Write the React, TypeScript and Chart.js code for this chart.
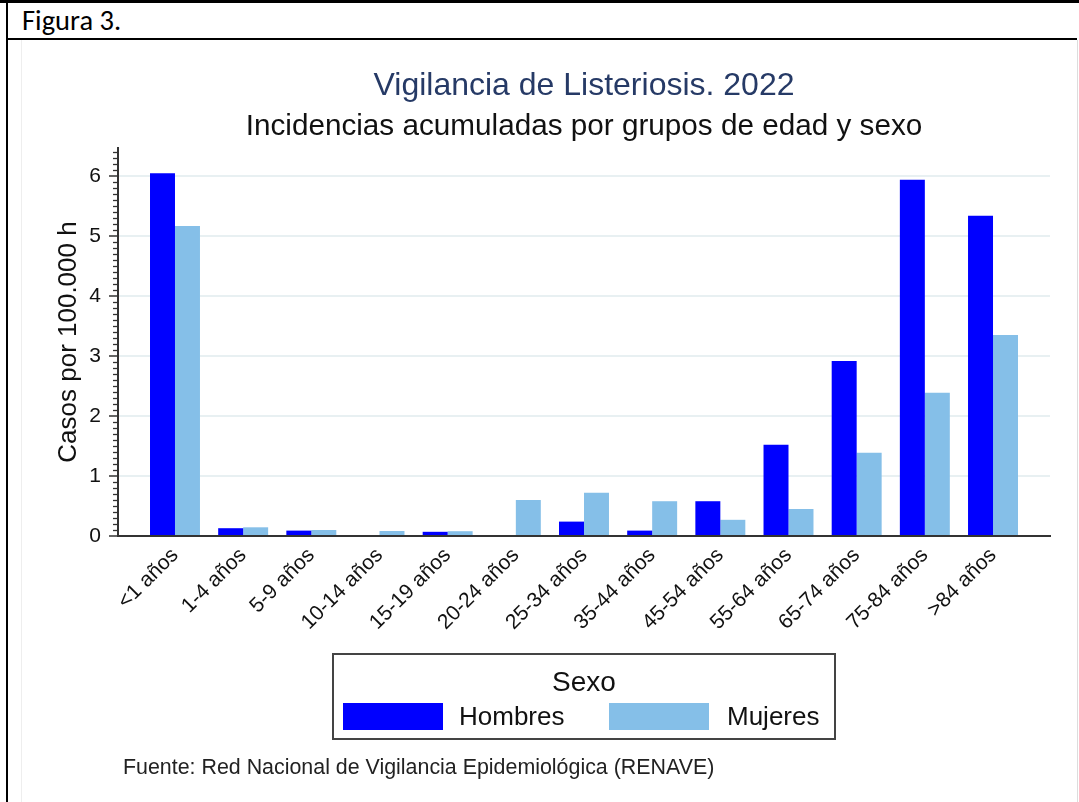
import React, { useEffect, useRef } from "react";
import { Chart, registerables } from "chart.js";

Chart.register(...registerables);

const categories = [
  "<1 años", "1-4 años", "5-9 años", "10-14 años", "15-19 años", "20-24 años",
  "25-34 años", "35-44 años", "45-54 años", "55-64 años", "65-74 años", "75-84 años", ">84 años",
];
const hombres = [6.05, 0.13, 0.09, 0, 0.07, 0, 0.24, 0.09, 0.58, 1.52, 2.92, 5.94, 5.34];
const mujeres = [5.17, 0.145, 0.1, 0.083, 0.08, 0.6, 0.72, 0.58, 0.27, 0.45, 1.39, 2.39, 3.35];
const yTickValues = [0, 1, 2, 3, 4, 5, 6];
const seriesNames = ["Hombres", "Mujeres"];
const seriesColors = ["#0000FF", "#85BFE8"];

const FONT = "'Liberation Sans', Arial, sans-serif";

const minorTicks = {
  id: "minorTicks",
  afterDraw(chart: any) {
    const y = chart.scales.y;
    const ctx = chart.ctx;
    ctx.save();
    ctx.strokeStyle = "#333";
    ctx.lineWidth = 1.3;
    const top = y.max;
    for (let k = 0; k / 10 <= top + 1e-9; k++) {
      if (k % 10 === 0) continue;
      const py = Math.round(y.getPixelForValue(k / 10)) + 0.5;
      ctx.beginPath();
      ctx.moveTo(y.right - 5, py);
      ctx.lineTo(y.right, py);
      ctx.stroke();
    }
    ctx.restore();
  },
};

function ChartCanvas() {
  const ref = useRef<HTMLCanvasElement | null>(null);
  useEffect(() => {
    if (!ref.current) return;
    const chart = new Chart(ref.current, {
      type: "bar",
      data: {
        datasets: [
          {
            label: seriesNames[0],
            data: hombres.map((v, i) => ({ x: i, y: v })),
            backgroundColor: seriesColors[0],
            borderWidth: 0,
          },
          {
            label: seriesNames[1],
            data: mujeres.map((v, i) => ({ x: i, y: v })),
            backgroundColor: seriesColors[1],
            borderWidth: 0,
          },
        ],
      },
      options: {
        responsive: false,
        animation: false,
        devicePixelRatio: 1,
        layout: { padding: { left: 0, right: 29, top: 0, bottom: 0 } },
        datasets: {
          bar: { categoryPercentage: 0.733, barPercentage: 1 },
        },
        plugins: {
          legend: { display: false },
          tooltip: { enabled: false },
          title: {
            display: true,
            fullSize: false,
            text: "Vigilancia de Listeriosis. 2022",
            color: "#263a66",
            font: { family: FONT, size: 32, weight: "normal" },
            padding: { top: 67, bottom: 0 },
          },
          subtitle: {
            display: true,
            fullSize: false,
            text: "Incidencias acumuladas por grupos de edad y sexo",
            color: "#111",
            font: { family: FONT, size: 29.7, weight: "normal" },
            padding: { top: 4, bottom: 3 },
          },
        },
        scales: {
          x: {
            type: "linear",
            min: -0.836,
            max: categories.length - 1 + 0.836,
            offset: false,
            grid: { display: false, drawTicks: false, offset: false },
            border: { display: true, color: "#333", width: 2 },
            afterBuildTicks: (scale: any) => {
              scale.ticks = categories.map((_, i) => ({ value: i }));
            },
            afterFit: (scale: any) => {
              scale.height = 266;
            },
            ticks: {
              autoSkip: false,
              maxRotation: 45,
              minRotation: 45,
              padding: 7,
              color: "#111",
              font: { family: FONT, size: 21 },
              callback: (v: any) => categories[Math.round(Number(v))] ?? "",
            },
          },
          y: {
            type: "linear",
            min: 0,
            max: 6.47,
            grid: {
              color: (c: any) => (c.tick && c.tick.value === 0 ? "rgba(0,0,0,0)" : "#E8F0F2"),
              lineWidth: 2,
              tickColor: "#333",
              tickLength: 9,
              tickWidth: 1.5,
            },
            border: { display: true, color: "#333", width: 2 },
            afterBuildTicks: (scale: any) => {
              scale.ticks = yTickValues.map((v) => ({ value: v }));
            },
            afterFit: (scale: any) => {
              scale.width = 118;
            },
            ticks: {
              padding: 8,
              color: "#111",
              font: { family: FONT, size: 21 },
              callback: (v: any) => String(v),
            },
            title: {
              display: true,
              text: "Casos por 100.000 h",
              color: "#111",
              font: { family: FONT, size: 26 },
              padding: { top: 53, bottom: 0 },
            },
          },
        },
      },
      plugins: [minorTicks],
    } as any);
    return () => chart.destroy();
  }, []);
  return (
    <canvas
      ref={ref}
      width={1079}
      height={802}
      style={{ position: "absolute", left: 0, top: 0, width: 1079, height: 802 }}
    />
  );
}

export default function App() {
  return (
    <div
      style={{
        position: "absolute",
        left: 0,
        top: 0,
        width: 1079,
        height: 802,
        background: "#fff",
        overflow: "hidden",
        fontFamily: FONT,
      }}
    >
      {/* frame */}
      <div style={{ position: "absolute", left: 0, top: 0, width: 1079, height: 3, background: "#000" }} />
      <div style={{ position: "absolute", left: 6, top: 0, width: 2, height: 802, background: "#000" }} />
      <div style={{ position: "absolute", left: 6, top: 38, width: 1071, height: 2, background: "#000" }} />
      <div style={{ position: "absolute", left: 1077, top: 40, width: 1, height: 762, background: "#ddd" }} />
      <div style={{ position: "absolute", left: 21, top: 40, width: 1, height: 762, background: "#eee" }} />
      <div
        style={{
          position: "absolute",
          left: 22,
          top: 4,
          height: 34,
          lineHeight: "34px",
          fontSize: 28.5,
          fontFamily: "Carlito, 'Open Sans', sans-serif",
          color: "#000",
        }}
      >
        Figura 3.
      </div>

      <ChartCanvas />

      {/* legend */}
      <div
        style={{
          position: "absolute",
          left: 332,
          top: 653,
          width: 500,
          height: 83,
          border: "2px solid #444",
        }}
      >
        <div
          style={{
            position: "absolute",
            left: 0,
            top: 10,
            width: 500,
            textAlign: "center",
            fontSize: 28,
            lineHeight: "34px",
            color: "#111",
          }}
        >
          Sexo
        </div>
        {seriesNames.map((name, i) => (
          <React.Fragment key={name}>
            <div
              style={{
                position: "absolute",
                left: 9 + i * 266,
                top: 48,
                width: 100,
                height: 27,
                background: seriesColors[i],
              }}
            />
            <div
              style={{
                position: "absolute",
                left: 125 + i * 268,
                top: 45,
                fontSize: 26,
                lineHeight: "32px",
                color: "#111",
                whiteSpace: "nowrap",
              }}
            >
              {name}
            </div>
          </React.Fragment>
        ))}
      </div>

      <div
        style={{
          position: "absolute",
          left: 123,
          top: 754,
          fontSize: 21.4,
          lineHeight: "26px",
          color: "#222",
          whiteSpace: "nowrap",
        }}
      >
        Fuente: Red Nacional de Vigilancia Epidemiológica (RENAVE)
      </div>
    </div>
  );
}
